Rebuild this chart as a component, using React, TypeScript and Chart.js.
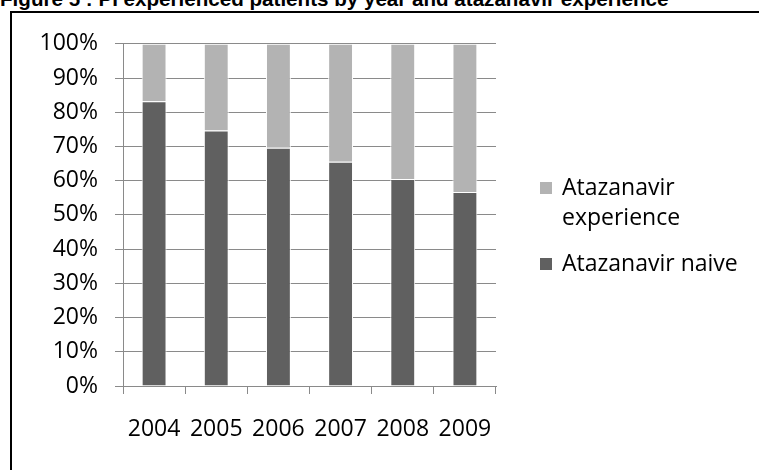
import React, { useEffect, useRef } from 'react';
import { Chart, registerables } from 'chart.js';

Chart.register(...registerables);

const titleText = 'Figure 5 : PI experienced patients by year and atazanavir experience';
const categories = ['2004', '2005', '2006', '2007', '2008', '2009'];
const naive = [83.2, 74.7, 69.6, 65.5, 60.5, 56.7];
const experience = [16.8, 25.3, 30.4, 34.5, 39.5, 43.3];
const seriesLabels = ['Atazanavir naive', 'Atazanavir experience'];
const seriesColors = ['#606060', '#b3b3b3'];
const legendOrder = [1, 0];

const FONT_FAMILY = '"Open Sans", "DejaVu Sans", sans-serif';
const GRID = '#8a8a8a';

export default function App() {
  const ref = useRef<HTMLCanvasElement>(null);

  useEffect(() => {
    const canvas = ref.current;
    if (!canvas) return;
    const tickFont = { family: FONT_FAMILY, size: 23 };
    const chart = new Chart(canvas, {
      type: 'bar',
      data: {
        labels: categories,
        datasets: [
          {
            label: seriesLabels[0],
            data: naive,
            backgroundColor: seriesColors[0],
            borderColor: '#ffffff',
            borderWidth: 1,
            barPercentage: 0.4,
            categoryPercentage: 1,
          },
          {
            label: seriesLabels[1],
            data: experience,
            backgroundColor: seriesColors[1],
            borderColor: '#ffffff',
            borderWidth: 1,
            barPercentage: 0.4,
            categoryPercentage: 1,
          },
        ],
      },
      options: {
        animation: false,
        responsive: false,
        maintainAspectRatio: false,
        layout: { padding: { top: 28, right: 263, bottom: 0, left: 0 } },
        plugins: {
          legend: { display: false },
          tooltip: { enabled: false },
          title: { display: false },
        },
        scales: {
          x: {
            stacked: true,
            offset: true,
            grid: {
              display: true,
              drawOnChartArea: false,
              drawTicks: true,
              tickLength: 8,
              color: GRID,
              offset: true,
            },
            border: { display: true, color: GRID, width: 1 },
            ticks: { font: tickFont, color: '#000000', padding: 22, maxRotation: 0 },
            afterFit: (s: any) => {
              s.height = 84;
            },
          },
          y: {
            stacked: true,
            min: 0,
            max: 100,
            grid: { color: GRID, tickLength: 8, drawTicks: true },
            border: { display: true, color: GRID, width: 1 },
            ticks: {
              stepSize: 10,
              font: tickFont,
              color: '#000000',
              padding: 17,
              callback: (v: any) => `${v}%`,
            },
            afterFit: (s: any) => {
              s.width = 111;
            },
          },
        },
      },
    });
    return () => chart.destroy();
  }, []);

  return (
    <div
      style={{
        position: 'absolute',
        left: 0,
        top: 0,
        width: 759,
        height: 470,
        overflow: 'hidden',
        background: '#ffffff',
      }}
    >
      <div
        style={{
          position: 'absolute',
          left: 0,
          top: -12.6,
          whiteSpace: 'nowrap',
          fontFamily: '"Liberation Sans", Arial, sans-serif',
          fontWeight: 'bold',
          fontSize: 20.6,
          lineHeight: '24px',
          color: '#000000',
        }}
      >
        {titleText}
      </div>
      <div
        style={{
          position: 'absolute',
          left: 10,
          top: 11,
          width: 800,
          height: 520,
          border: '2px solid #000000',
          boxSizing: 'border-box',
        }}
      />
      <canvas
        ref={ref}
        width={747}
        height={457}
        style={{ position: 'absolute', left: 12, top: 13, width: 747, height: 457 }}
      />
      <div
        style={{
          position: 'absolute',
          left: 540,
          top: 172,
          width: 215,
          fontFamily: FONT_FAMILY,
          fontSize: 23,
          lineHeight: '29.5px',
          color: '#000000',
        }}
      >
        {legendOrder.map((i) => (
          <div key={i} style={{ display: 'flex', alignItems: 'flex-start', marginBottom: 17.3 }}>
            <span
              style={{
                flex: 'none',
                width: 12,
                height: 12,
                marginTop: 10,
                background: seriesColors[i],
              }}
            />
            <span style={{ marginLeft: 10, width: 190 }}>{seriesLabels[i]}</span>
          </div>
        ))}
      </div>
    </div>
  );
}
